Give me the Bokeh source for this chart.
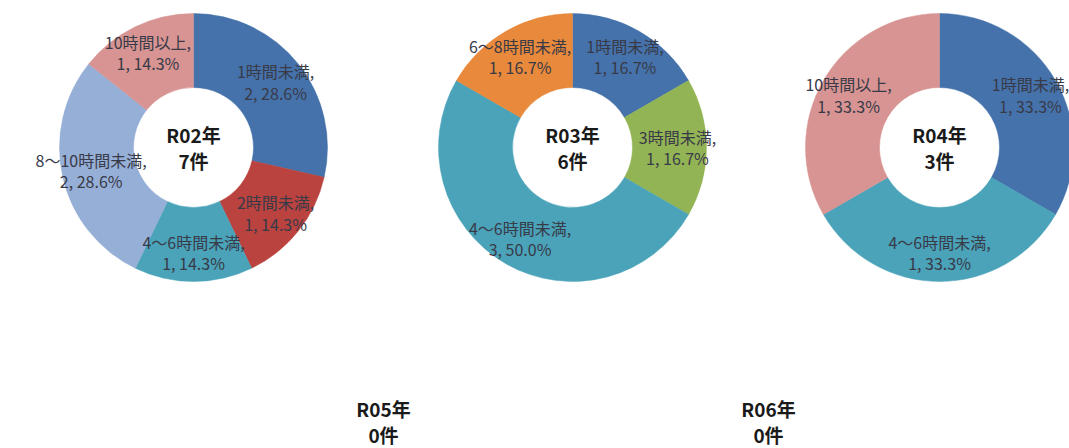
import math
from bokeh.plotting import figure
from bokeh.models import Range1d, ColumnDataSource
from bokeh.core.properties import value
from bokeh.embed import file_html
from bokeh.resources import INLINE

# ---- data ----
categories = ["1時間未満", "2時間未満", "3時間未満", "4～6時間未満",
              "6～8時間未満", "8～10時間未満", "10時間以上"]
colors = ["#4572AA", "#BA433F", "#93B454", "#4AA3B9",
          "#E8893B", "#96AFD7", "#D79492"]
years = ["R02年", "R03年", "R04年", "R05年", "R06年"]
r02 = [2, 1, 0, 1, 0, 2, 1]
r03 = [1, 0, 1, 3, 1, 0, 0]
r04 = [1, 0, 0, 1, 0, 0, 1]
r05 = [0, 0, 0, 0, 0, 0, 0]
r06 = [0, 0, 0, 0, 0, 0, 0]
series = [r02, r03, r04, r05, r06]

# ---- layout (picture pixel coordinates) ----
centers_x = [193, 572, 939, 383, 768]
centers_y = [147, 147, 147, 421, 421]
R_OUT, R_IN, R_LAB = 134, 60, 105

W, H = 1069, 448
FONT = "Noto Sans CJK JP"

p = figure(width=W, height=H, output_backend="svg", toolbar_location=None,
           x_range=Range1d(0, W), y_range=Range1d(-H, 0),
           x_axis_location=None, y_axis_location=None, min_border=0)
p.grid.visible = False
p.outline_line_color = None
p.background_fill_color = "white"
p.border_fill_color = "white"

for yr, vals, cx, cy in zip(years, series, centers_x, centers_y):
    total = sum(vals)
    y0 = -cy
    if total > 0:
        xs, ys, starts, ends, cols = [], [], [], [], []
        lx, ly, ltxt = [], [], []
        cum = 0
        for cat, v, col in zip(categories, vals, colors):
            if v == 0:
                continue
            a0 = cum / total * 2 * math.pi
            cum += v
            a1 = cum / total * 2 * math.pi
            xs.append(cx); ys.append(y0)
            starts.append(math.pi / 2 - a0)
            ends.append(math.pi / 2 - a1)
            cols.append(col)
            mid = (a0 + a1) / 2
            lx.append(cx + R_LAB * math.sin(mid))
            ly.append(y0 + R_LAB * math.cos(mid))
            ltxt.append(f"{cat},\n{v}, {v / total * 100:.1f}%")
        src = ColumnDataSource(dict(x=xs, y=ys, s=starts, e=ends, c=cols))
        p.annular_wedge(x="x", y="y", inner_radius=R_IN, outer_radius=R_OUT,
                        start_angle="s", end_angle="e", direction="clock",
                        fill_color="c", line_color="c", line_width=0.5,
                        source=src)
        p.text(x=lx, y=ly, text=ltxt, text_font=value(FONT),
               text_font_size="16px", text_color="#383a48",
               text_align="center", text_baseline="middle",
               text_line_height=0.88)
    p.text(x=[cx], y=[y0], text=[f"{yr}\n{total}件"], text_font=value(FONT),
           text_font_size="19px", text_font_style="bold", text_color="#1a1a1a",
           text_align="center", text_baseline="middle", text_line_height=0.93)

open("out.html", "w").write(file_html(p, INLINE))
